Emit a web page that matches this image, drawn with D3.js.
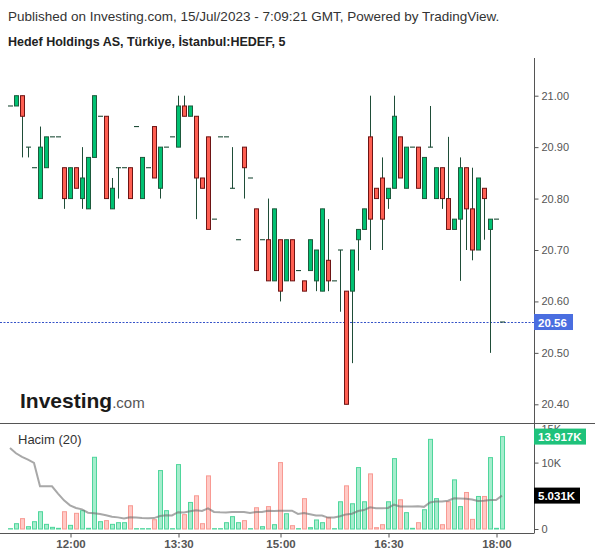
<!DOCTYPE html>
<html><head><meta charset="utf-8">
<script src="https://cdn.jsdelivr.net/npm/d3@7"></script>
<style>body{margin:0;background:#fff}svg{display:block;font-family:"Liberation Sans",Arial,sans-serif}</style>
</head><body><svg id="c" width="600" height="558"></svg>
<script>
const times = ["11:10","11:15","11:20","11:25","11:30","11:35","11:40","11:45","11:50","11:55",
"12:00","12:05","12:10","12:15","12:20","12:25","12:30","12:35","12:40","12:45","12:50","12:55",
"13:00","13:05","13:10","13:15","13:20","13:25","13:30","13:35","13:40","13:45","13:50","13:55",
"14:00","14:05","14:10","14:15","14:20","14:25","14:30","14:35","14:45","14:50","14:55","15:00",
"15:05","15:10","15:15","15:20","15:25","15:30","15:35","15:40","15:45","15:50","15:55","16:00",
"16:05","16:10","16:15","16:20","16:25","16:30","16:35","16:40","16:45","16:50","16:55","17:00",
"17:05","17:10","17:15","17:20","17:25","17:30","17:35","17:40","17:45","17:50","17:55","18:00","18:05"];
const open  = [20.98,20.98,21.00,20.90,20.86,20.80,20.86,20.92,20.92,20.86,20.80,20.86,20.80,20.78,20.88,20.96,20.96,20.78,20.86,20.86,
20.86,20.94,20.80,20.86,20.94,20.82,20.90,20.92,20.90,20.98,20.96,20.96,20.84,20.92,20.76,20.92,20.92,20.82,20.72,20.90,
20.84,20.78,20.72,20.72,20.64,20.72,20.64,20.72,20.66,20.64,20.66,20.64,20.62,20.68,20.64,20.70,20.62,20.62,20.72,20.74,
20.92,20.82,20.84,20.80,20.82,20.92,20.82,20.90,20.90,20.80,20.90,20.80,20.86,20.80,20.74,20.76,20.86,20.78,20.70,20.82,
20.74,20.76,20.56];
const high  = [20.98,21.00,21.00,20.90,20.86,20.94,20.92,20.92,20.92,20.86,20.86,20.86,20.90,20.88,21.00,20.96,20.96,20.84,20.86,20.86,
20.86,20.94,20.88,20.86,20.94,20.90,20.90,20.92,21.00,21.00,20.98,20.96,20.84,20.92,20.76,20.92,20.92,20.90,20.72,20.90,
20.84,20.78,20.72,20.80,20.78,20.72,20.72,20.72,20.66,20.64,20.72,20.70,20.78,20.76,20.64,20.70,20.62,20.70,20.74,20.78,
21.00,20.82,20.88,20.82,21.00,20.92,20.90,20.90,20.90,20.88,20.98,20.86,20.86,20.92,20.76,20.88,20.86,20.86,20.84,20.82,
20.76,20.76,20.56];
const low   = [20.98,20.98,20.88,20.88,20.86,20.80,20.86,20.92,20.92,20.78,20.80,20.82,20.78,20.78,20.88,20.96,20.80,20.78,20.80,20.86,
20.80,20.94,20.80,20.86,20.84,20.80,20.90,20.92,20.90,20.96,20.96,20.76,20.82,20.74,20.76,20.92,20.92,20.82,20.72,20.80,
20.84,20.66,20.72,20.64,20.64,20.60,20.64,20.64,20.66,20.62,20.66,20.62,20.62,20.62,20.64,20.58,20.40,20.48,20.66,20.74,
20.70,20.80,20.70,20.78,20.82,20.84,20.82,20.90,20.82,20.80,20.90,20.80,20.78,20.74,20.74,20.64,20.70,20.68,20.70,20.72,
20.50,20.76,20.56];
const close = [20.98,21.00,20.96,20.90,20.86,20.90,20.92,20.92,20.92,20.80,20.86,20.82,20.84,20.88,21.00,20.96,20.80,20.82,20.86,20.86,
20.80,20.94,20.88,20.86,20.84,20.90,20.90,20.92,20.98,20.96,20.98,20.84,20.82,20.74,20.76,20.92,20.92,20.82,20.72,20.86,
20.84,20.66,20.72,20.64,20.78,20.62,20.72,20.64,20.66,20.62,20.72,20.70,20.78,20.64,20.64,20.70,20.40,20.70,20.74,20.78,
20.76,20.80,20.76,20.82,20.96,20.84,20.90,20.90,20.82,20.88,20.90,20.86,20.80,20.74,20.76,20.86,20.78,20.70,20.84,20.80,
20.76,20.76,20.56];
const volumeK = [0.05,0.8,1.56,0.35,1.1,2.6,0.7,0.25,0.1,2.6,0.55,2.36,2.76,0.1,10.8,1.1,1.26,0.7,0.95,0.95,
3.5,0.05,0.05,0.05,1.4,8.8,2.76,0.05,9.7,2.16,4.0,5.0,0.8,8.0,0.05,0.05,0.95,1.86,0.95,1.26,
0.05,3.2,0.35,3.37,0.65,10.0,2.3,0.5,0.05,4.57,0.2,1.36,0.95,1.7,0.05,4.1,6.5,3.8,9.25,4.1,
8.3,0.2,0.65,4.1,10.6,4.4,2.46,0.1,0.95,2.9,13.5,4.57,0.65,4.1,7.4,3.37,5.5,1.45,4.9,4.9,
10.75,0.1,13.917];
// volume moving average (20) for the first bars (earlier bars are off-screen)
const volumeMAHead = [12.2,11.4,10.85,10.45,9.95,6.43,6.43,6.43,5.33,4.32,3.57,3.17,2.96,2.46,2.36,2.26,2.06,1.85,1.75];
const priceTicks = [20.40,20.50,20.60,20.70,20.80,20.90,21.00];
const volumeTicks = [0,10,15];
const timeTicks = ["12:00","13:30","15:00","16:30","18:00"];
const lastPrice = 20.56;
const maPeriod = 20;

const svg = d3.select("#c");
const axisX = 534;
const x = d3.scalePoint().domain(times).range([10, 502]);
const y = d3.scaleLinear().domain([20.40, 21.00]).range([404.3, 95.7]);
const vy = d3.scaleLinear().domain([0, 15]).range([529, 429.4]);

const GREEN = "#00c172", GREEN_S = "#1d5a3c", RED = "#ff5f52", RED_S = "#6e1414", WICK = "#1f4d38";

// titles
svg.append("text").attr("x", 8).attr("y", 21).attr("font-size", 13.5).attr("fill", "#333")
  .text("Published on Investing.com, 15/Jul/2023 - 7:09:21 GMT, Powered by TradingView.");
svg.append("text").attr("x", 8).attr("y", 46).attr("font-size", 12.5).attr("font-weight", "bold").attr("fill", "#222")
  .text("Hedef Holdings AS, Türkiye, İstanbul:HEDEF, 5");

// last price dotted line
svg.append("line").attr("x1", 0).attr("x2", axisX).attr("y1", Math.round(y(lastPrice)) + 0.5).attr("y2", Math.round(y(lastPrice)) + 0.5)
  .attr("stroke", "#3553c8").attr("stroke-dasharray", "2,1.5").attr("stroke-width", 1);

// candles
const data = times.map((t, i) => ({t, o: open[i], h: high[i], l: low[i], c: close[i], v: volumeK[i]}));
const cg = svg.append("g");
data.forEach(d => {
  const cx = x(d.t);
  if (d.h !== d.l) cg.append("line").attr("x1", cx + 0.5).attr("x2", cx + 0.5).attr("y1", y(d.h)).attr("y2", y(d.l))
    .attr("stroke", WICK).attr("stroke-width", 1);
  if (d.o === d.c) {
    cg.append("line").attr("x1", cx - 2).attr("x2", cx + 3).attr("y1", y(d.o)).attr("y2", y(d.o))
      .attr("stroke", WICK).attr("stroke-width", 1.1);
  } else {
    const up = d.c > d.o;
    cg.append("rect").attr("x", cx - 1.5).attr("width", 4)
      .attr("y", y(Math.max(d.o, d.c))).attr("height", y(Math.min(d.o, d.c)) - y(Math.max(d.o, d.c)))
      .attr("fill", up ? GREEN : RED).attr("stroke", up ? GREEN_S : RED_S).attr("stroke-width", 1);
  }
});

// volume bars
const vg = svg.append("g");
data.forEach(d => {
  const cx = x(d.t);
  const up = d.c >= d.o;
  vg.append("rect").attr("x", cx - 1.5).attr("width", 4)
    .attr("y", vy(d.v)).attr("height", Math.max(0.01, vy(0) - vy(d.v)))
    .attr("fill", up ? "#a6edcd" : "#ffcac6").attr("stroke", up ? "#4fd69c" : "#f89a93").attr("stroke-width", 1);
});

// volume MA
const ma = data.map((d, i) => i < volumeMAHead.length ? volumeMAHead[i] : d3.mean(volumeK.slice(i - maPeriod + 1, i + 1)));
svg.append("path").datum(ma)
  .attr("d", d3.line().x((v, i) => x(times[i])).y(v => vy(v)))
  .attr("fill", "none").attr("stroke", "rgba(110,110,110,0.6)").attr("stroke-width", 2);

// separators and axes
svg.append("line").attr("x1", 0).attr("x2", 595).attr("y1", 423.5).attr("y2", 423.5).attr("stroke", "#555");
svg.append("line").attr("x1", 0).attr("x2", axisX).attr("y1", 533.5).attr("y2", 533.5).attr("stroke", "#555");

const pAxis = svg.append("g").attr("transform", `translate(${axisX + 0.5},0)`)
  .call(d3.axisRight(y).tickValues(priceTicks).tickFormat(d3.format(".2f")).tickSize(4).tickPadding(3));
pAxis.select(".domain").attr("d", "M0,58V533.5").attr("stroke", "#555");
pAxis.selectAll("line").attr("stroke", "#555");
pAxis.selectAll("text").attr("font-size", 11).attr("fill", "#555").attr("font-family", "Liberation Sans, Arial, sans-serif");

svg.append("clipPath").attr("id", "vc").append("rect").attr("x", axisX).attr("y", 424).attr("width", 70).attr("height", 120);
const vAxis = svg.append("g").attr("clip-path", "url(#vc)").append("g").attr("transform", `translate(${axisX + 0.5},0)`)
  .call(d3.axisRight(vy).tickValues(volumeTicks).tickFormat(v => v === 0 ? "0" : v + "K").tickSize(4).tickPadding(3));
vAxis.select(".domain").remove();
vAxis.selectAll("line").attr("stroke", "#555");
vAxis.selectAll("text").attr("font-size", 11).attr("fill", "#555").attr("font-family", "Liberation Sans, Arial, sans-serif");

const tAxis = svg.append("g").attr("transform", "translate(0.5,533.5)")
  .call(d3.axisBottom(x).tickValues(timeTicks).tickSize(4).tickPadding(2));
tAxis.select(".domain").remove();
tAxis.selectAll("line").attr("stroke", "#555");
tAxis.selectAll("text").attr("font-size", 11.5).attr("font-weight", "bold").attr("fill", "#555").attr("font-family", "Liberation Sans, Arial, sans-serif");

// value labels
function tag(yv, txt, bg, w) {
  const g = svg.append("g").attr("transform", `translate(${axisX},${yv})`);
  g.append("rect").attr("x", 0).attr("y", -8).attr("width", w).attr("height", 16).attr("fill", bg);
  g.append("text").attr("x", 4).attr("y", 4.5).attr("font-size", 11.5).attr("font-weight", "bold").attr("fill", "#fff").text(txt);
}
tag(y(lastPrice), d3.format(".2f")(lastPrice), "#4a6ee0", 39);
const lastVol = volumeK[volumeK.length - 1];
tag(vy(lastVol), d3.format(".3f")(lastVol) + "K", "#1fc27b", 52);
const lastMA = ma[ma.length - 1];
tag(vy(lastMA), d3.format(".3f")(lastMA) + "K", "#000", 46);

// legend & logo
svg.append("text").attr("x", 18).attr("y", 444).attr("font-size", 13).attr("fill", "#333").text("Hacim (20)");
const logo = svg.append("text").attr("x", 20).attr("y", 408);
logo.append("tspan").attr("font-size", 21).attr("font-weight", "bold").attr("fill", "#1a1a1a").text("Investing");
logo.append("tspan").attr("font-size", 15).attr("fill", "#555").text(".com");
</script></body></html>
